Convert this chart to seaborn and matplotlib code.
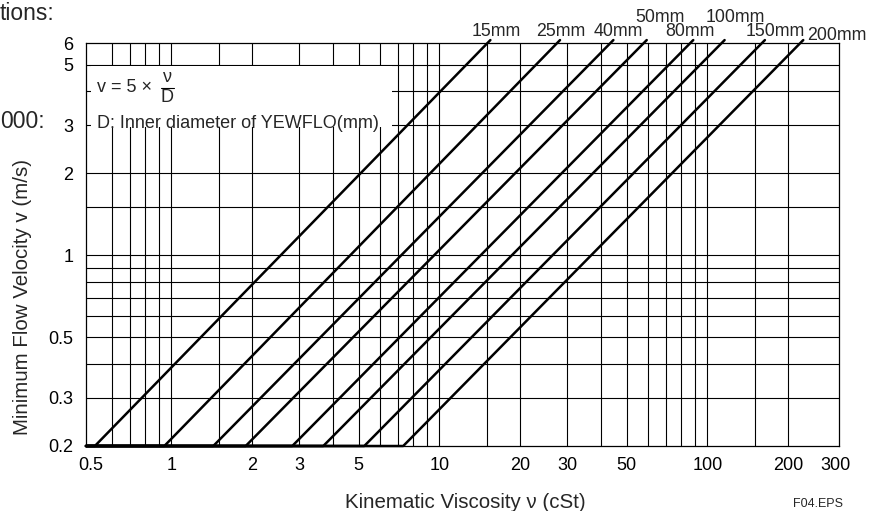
import matplotlib
matplotlib.use("Agg")
import matplotlib.pyplot as plt
from matplotlib.ticker import FixedLocator, FixedFormatter, NullLocator
from matplotlib.patches import Rectangle
from matplotlib.lines import Line2D
import pandas as pd
import seaborn as sns

# YEWFLO sizes and where each line leaves the 0.2 m/s floor / reaches the top
sizes = ["15mm", "25mm", "40mm", "50mm", "80mm", "100mm", "150mm", "200mm"]
nu_start = [0.518, 0.941, 1.433, 1.893, 2.825, 3.688, 5.245, 7.33]
nu_end = [15.5, 28.2, 44.6, 59.4, 88.6, 116, 164, 228]
v_floor = 0.2
v_top = 6.15
nu_min = 0.48

x_ticks = [0.5, 1, 2, 3, 5, 10, 20, 30, 50, 100, 200, 300]
x_grid = [0.6, 0.7, 0.8, 0.9, 1, 1.5, 2, 3, 4, 5, 6, 7, 8, 9, 10,
          15, 20, 30, 40, 50, 60, 70, 80, 90, 100, 150, 200]
y_ticks = [0.2, 0.3, 0.5, 1, 2, 3, 5, 6]
y_grid = [0.3, 0.4, 0.5, 0.6, 0.7, 0.8, 0.9, 1, 1.5, 2, 3, 4, 5]

# long table: floor -> knee -> top
rows = []
for s, a, b in zip(sizes, nu_start, nu_end):
    rows.append({"size": s, "nu": nu_min, "v": v_floor})
    rows.append({"size": s, "nu": a, "v": v_floor})
    rows.append({"size": s, "nu": b, "v": v_top})
df = pd.DataFrame(rows)

sns.set_style("white")
plt.rcParams["font.family"] = ["Liberation Sans", "DejaVu Sans"]

W, H = 878, 511
FS = 13
FS_LAB = 14.8
fig = plt.figure(figsize=(W / 100, H / 100), dpi=100)
fig.subplots_adjust(left=86 / W, right=839 / W, top=1 - 43 / H, bottom=1 - 446 / H)
ax = fig.add_subplot(111)


def px(x, y):
    return x / W, 1 - y / H


ax.set_xscale("log")
ax.set_yscale("log")
ax.set_xlim(0.48, 310)
ax.set_ylim(0.2, 6)

for x in x_grid:
    ax.axvline(x, color="black", lw=0.8, zorder=1)
for y in y_grid:
    ax.axhline(y, color="black", lw=0.8, zorder=1)

# white box behind the formula
ax.add_patch(Rectangle((0.5, 2.95), 6.65 - 0.5, 4.95 - 2.95,
                       facecolor="white", edgecolor="none", zorder=2))

sns.lineplot(data=df, x="nu", y="v", units="size", estimator=None, sort=False,
             color="black", linewidth=1.8, ax=ax, legend=False, zorder=3,
             clip_on=False)

ax.xaxis.set_major_locator(FixedLocator(x_ticks))
ax.xaxis.set_major_formatter(FixedFormatter([f"{t:g}" for t in x_ticks]))
ax.xaxis.set_minor_locator(NullLocator())
ax.yaxis.set_major_locator(FixedLocator(y_ticks))
ax.yaxis.set_major_formatter(FixedFormatter([f"{t:g}" for t in y_ticks]))
ax.yaxis.set_minor_locator(NullLocator())
ax.tick_params(axis="both", length=0, labelsize=FS, colors="black")
ax.tick_params(axis="x", pad=8)
ax.tick_params(axis="y", pad=9)
ax.set_xlabel("")
ax.set_ylabel("")
for sp in ax.spines.values():
    sp.set_color("black")
    sp.set_linewidth(0.9)

# line labels
label_pos = [(496, 32), (561, 32), (618, 32), (660, 17),
             (690, 32), (735, 17), (775, 32), (837, 35)]
for s, (x, y) in zip(sizes, label_pos):
    fig.text(*px(x, y), s, ha="center", va="center", fontsize=12.8)

# formula in the box
fig.text(*px(97, 87), "v = 5 ×", ha="left", va="center", fontsize=FS)
fig.text(*px(167, 77), "ν", ha="center", va="center", fontsize=FS)
fig.text(*px(167.5, 97.5), "D", ha="center", va="center", fontsize=FS)
fig.add_artist(Line2D([161 / W, 174 / W], [1 - 88.5 / H, 1 - 88.5 / H],
                      color="black", lw=0.8))
fig.text(*px(97, 124), "D: Inner diameter of YEWFLO(mm)", ha="left", va="center",
         fontsize=FS)

fig.text(*px(465, 502), "Kinematic Viscosity ν (cSt)", ha="center", va="center",
         fontsize=FS_LAB)
fig.text(*px(22.5, 297), "Minimum Flow Velocity v (m/s)", ha="center", va="center",
         rotation=90, fontsize=FS_LAB)
fig.text(*px(818, 504), "F04.EPS", ha="center", va="center", fontsize=9)

# cut-off document text
fig.text(*px(0, 13), "tions:", ha="left", va="center", fontsize=16.5)
fig.text(*px(0, 121), "000:", ha="left", va="center", fontsize=16.5)

plt.savefig("out.png", dpi=100)
